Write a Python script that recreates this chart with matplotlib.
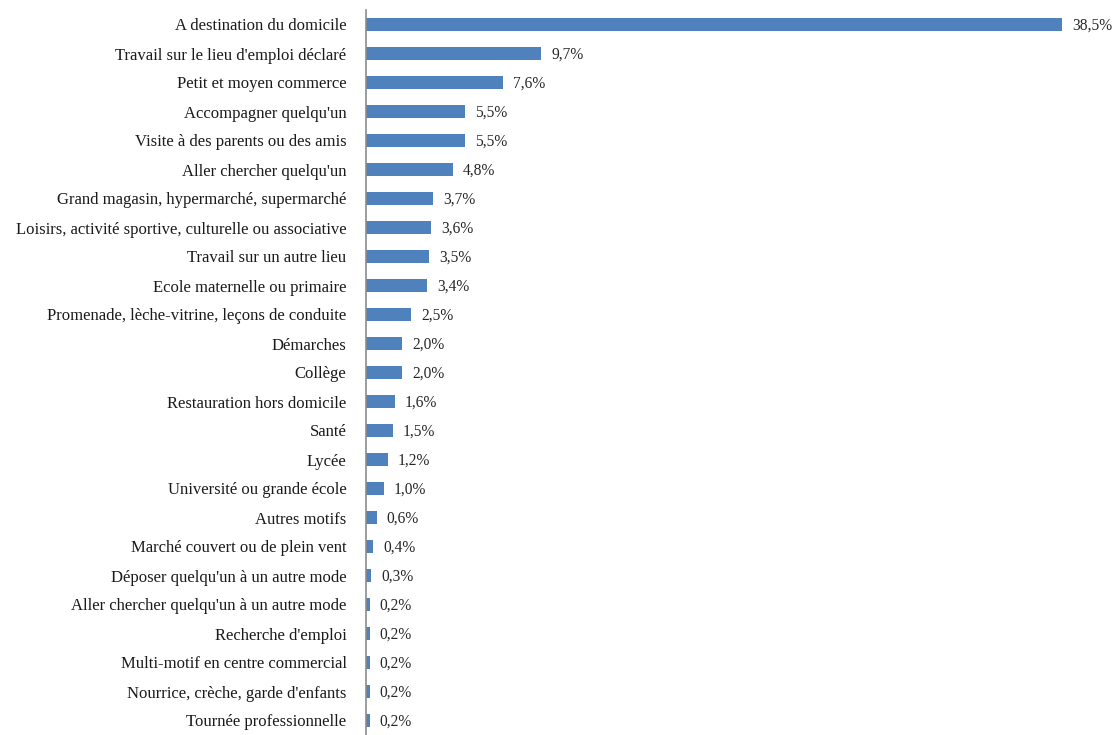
import matplotlib.pyplot as plt

# Motifs de déplacement et parts (%)
motifs = [
    "A destination du domicile",
    "Travail sur le lieu d'emploi déclaré",
    "Petit et moyen commerce",
    "Accompagner quelqu'un",
    "Visite à des parents ou des amis",
    "Aller chercher quelqu'un",
    "Grand magasin, hypermarché, supermarché",
    "Loisirs, activité sportive, culturelle ou associative",
    "Travail sur un autre lieu",
    "Ecole maternelle ou primaire",
    "Promenade, lèche-vitrine, leçons de conduite",
    "Démarches",
    "Collège",
    "Restauration hors domicile",
    "Santé",
    "Lycée",
    "Université ou grande école",
    "Autres motifs",
    "Marché couvert ou de plein vent",
    "Déposer quelqu'un à un autre mode",
    "Aller chercher quelqu'un à un autre mode",
    "Recherche d'emploi",
    "Multi-motif en centre commercial",
    "Nourrice, crèche, garde d'enfants",
    "Tournée professionnelle",
]
parts = [38.5, 9.7, 7.6, 5.5, 5.5, 4.8, 3.7, 3.6, 3.5, 3.4, 2.5, 2.0, 2.0,
         1.6, 1.5, 1.2, 1.0, 0.6, 0.4, 0.3, 0.2, 0.2, 0.2, 0.2, 0.2]

plt.rcParams['font.family'] = ['Liberation Serif', 'DejaVu Serif']

fig = plt.figure(figsize=(11.18, 7.35), dpi=100)
ax = fig.add_axes([366 / 1118, 0.0, 752 / 1118, 725 / 735])

y = list(range(len(motifs)))
ax.barh(y, parts, height=0.42, color='#4F81BD', edgecolor='none')
ax.set_xlim(0, 41.6)
ax.set_ylim(len(motifs) - 0.5, -0.5)

for yi, v in zip(y, parts):
    ax.text(v + 0.55, yi + 0.05, f"{v:.1f}%".replace('.', ','), va='center',
            ha='left', fontsize=11.2, color='#262626')

ax.set_yticks(y)
ax.set_yticklabels(motifs, fontsize=12, color='#1a1a1a')
ax.tick_params(axis='y', length=0, pad=14)
ax.set_xticks([])
for s in ['top', 'right', 'bottom']:
    ax.spines[s].set_visible(False)
ax.spines['left'].set_color('#8c8c8c')
ax.spines['left'].set_linewidth(1.2)

fig.savefig('out.png', dpi=100)
